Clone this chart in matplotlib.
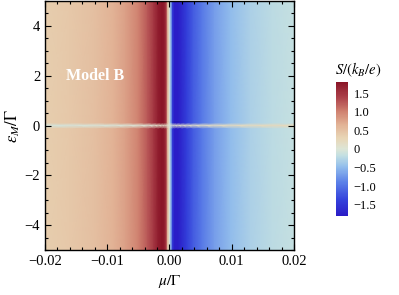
import numpy as np
import matplotlib

matplotlib.use("Agg")
import matplotlib.pyplot as plt
from matplotlib.colors import LinearSegmentedColormap
from matplotlib.ticker import MultipleLocator, FixedLocator, FixedFormatter

plt.rcParams["font.family"] = ["Liberation Serif", "DejaVu Serif"]
plt.rcParams["mathtext.fontset"] = "stix"
plt.rcParams["axes.unicode_minus"] = True

# ── Data ─────────────────────────────────────────────────────────────────────
# chemical potential mu/Gamma (columns)
mu = [-0.020, -0.016, -0.012, -0.009, -0.007, -0.005, -0.0035, -0.0025,
      -0.0018, -0.0012, -0.0008, -0.0005, -0.00025, 0.0, 0.00025, 0.0005,
      0.0008, 0.0013, 0.0020, 0.0028, 0.0038, 0.0052, 0.0072, 0.0098,
      0.0130, 0.0165, 0.0200]
# Seebeck coefficient away from eps_M = 0
S_bulk = [0.37, 0.43, 0.53, 0.66, 0.80, 1.00, 1.26, 1.50,
          1.72, 1.80, 1.74, 1.40, 0.50, 0.0, -0.60, -1.45,
          -1.78, -1.78, -1.62, -1.40, -1.18, -0.95, -0.70, -0.48,
          -0.32, -0.22, -0.16]
# Seebeck coefficient on the eps_M = 0 line
S_line = [-0.06, -0.05, -0.04, -0.03, -0.02, -0.01, 0.0, 0.05,
          0.10, 0.12, 0.12, 0.10, 0.05, 0.0, 0.02, 0.05,
          0.08, 0.10, 0.12, 0.13, 0.14, 0.16, 0.18, 0.20,
          0.22, 0.23, 0.24]
# rows in eps_M/Gamma and which profile each row uses
eps = [-5.0, -0.11, 0.0, 0.11, 5.0]
row_kind = ["bulk", "bulk", "line", "bulk", "bulk"]

x_ticks = [-0.02, -0.01, 0.00, 0.01, 0.02]
x_ticklabels = ["\u22120.02", "\u22120.01", "0.00", "0.01", "0.02"]
cb_ticks = [1.5, 1.0, 0.5, 0.0, -0.5, -1.0, -1.5]
cb_ticklabels = ["1.5", "1.0", "0.5", "0", "\u22120.5", "\u22121.0", "\u22121.5"]

# ── Colour map (thermometer-like) ────────────────────────────────────────────
cmap = LinearSegmentedColormap.from_list("thermo", [
    (0.00, "#2a1cc6"),
    (0.12, "#3442dc"),
    (0.25, "#5b80e8"),
    (0.37, "#94bfec"),
    (0.45, "#c2dfe2"),
    (0.50, "#dde5d6"),
    (0.58, "#e8d6b6"),
    (0.68, "#e2b396"),
    (0.78, "#d08270"),
    (0.88, "#ae444c"),
    (1.00, "#8a1528"),
])

Z = np.array([S_bulk if k == "bulk" else S_line for k in row_kind])
X, Y = np.meshgrid(mu, eps)

fig = plt.figure(figsize=(3.99, 2.95), dpi=100)
ax = fig.add_axes([0.1128, 0.1525, 0.6240, 0.8441])
mesh = ax.pcolormesh(X, Y, Z, cmap=cmap, vmin=-1.8, vmax=1.8,
                     shading="gouraud", rasterized=True)

ax.set_xlim(-0.02, 0.02)
ax.set_ylim(-5, 5)
ax.xaxis.set_major_locator(FixedLocator(x_ticks))
ax.xaxis.set_major_formatter(FixedFormatter(x_ticklabels))
ax.xaxis.set_minor_locator(MultipleLocator(0.002))
ax.yaxis.set_major_locator(MultipleLocator(2))
ax.yaxis.set_minor_locator(MultipleLocator(0.5))
ax.tick_params(which="both", direction="in", top=True, right=True,
               labelsize=10.5, width=0.8)
ax.tick_params(which="major", length=4)
ax.tick_params(which="minor", length=2.2)
for sp in ax.spines.values():
    sp.set_linewidth(1.0)

ax.set_xlabel(r"$\mu/\Gamma$", fontsize=11, labelpad=4)
ax.set_ylabel(r"$\varepsilon_M/\Gamma$", fontsize=12, labelpad=2)

ax.text(-0.0119, 2.0, "Model B", color="white", fontsize=11.5,
        fontweight="bold", ha="center", va="center")

# ── Colour bar ───────────────────────────────────────────────────────────────
cax = fig.add_axes([0.8421, 0.268, 0.030, 0.454])
cb = fig.colorbar(mesh, cax=cax)
cb.outline.set_visible(False)
cb.set_ticks(cb_ticks)
cb.set_ticklabels(cb_ticklabels)
cax.tick_params(length=0, labelsize=9, pad=4)
fig.text(0.897, 0.762, r"$S/(k_B/e)$", fontsize=10.5, ha="center", va="center")

fig.savefig("out.png", dpi=100)
